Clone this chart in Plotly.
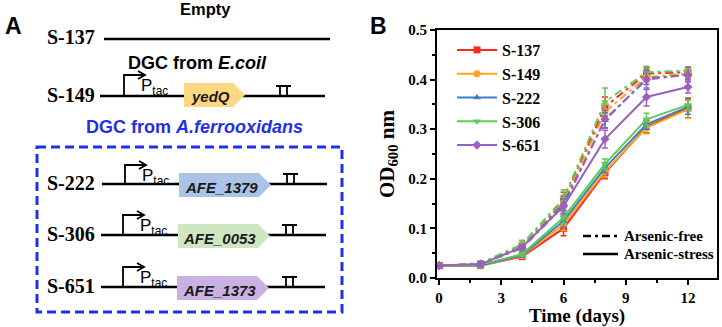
import plotly.graph_objects as go

W, H = 722, 327

# ---------------- data ----------------
days = [0, 2, 4, 6, 8, 10, 12]
strains = ["S-137", "S-149", "S-222", "S-306", "S-651"]
colors = ["#ff2a1f", "#ffa51c", "#3e80c4", "#60c95a", "#9c5fc1"]
symbols = ["square", "circle", "triangle-up", "triangle-down", "diamond"]

stress_137 = [0.025, 0.025, 0.043, 0.100, 0.212, 0.305, 0.343]
stress_149 = [0.025, 0.024, 0.045, 0.108, 0.215, 0.303, 0.340]
stress_222 = [0.025, 0.025, 0.046, 0.115, 0.222, 0.310, 0.345]
stress_306 = [0.025, 0.027, 0.048, 0.122, 0.230, 0.320, 0.349]
stress_651 = [0.025, 0.028, 0.062, 0.145, 0.280, 0.365, 0.385]

free_137 = [0.025, 0.028, 0.063, 0.155, 0.345, 0.412, 0.415]
free_149 = [0.025, 0.028, 0.066, 0.152, 0.335, 0.405, 0.412]
free_222 = [0.025, 0.028, 0.062, 0.150, 0.318, 0.402, 0.410]
free_306 = [0.025, 0.030, 0.068, 0.160, 0.355, 0.415, 0.418]
free_651 = [0.025, 0.028, 0.060, 0.145, 0.320, 0.400, 0.410]

stress_err_137 = [0.003, 0.004, 0.004, 0.015, 0.012, 0.012, 0.020]
stress_err_149 = [0.003, 0.004, 0.004, 0.012, 0.012, 0.012, 0.018]
stress_err_222 = [0.003, 0.004, 0.004, 0.012, 0.010, 0.010, 0.015]
stress_err_306 = [0.003, 0.004, 0.004, 0.012, 0.010, 0.012, 0.010]
stress_err_651 = [0.003, 0.004, 0.006, 0.015, 0.018, 0.018, 0.012]

free_err_137 = [0.003, 0.004, 0.006, 0.018, 0.020, 0.012, 0.010]
free_err_149 = [0.003, 0.004, 0.008, 0.015, 0.015, 0.010, 0.010]
free_err_222 = [0.003, 0.004, 0.006, 0.015, 0.015, 0.012, 0.010]
free_err_306 = [0.003, 0.005, 0.008, 0.018, 0.028, 0.012, 0.008]
free_err_651 = [0.003, 0.004, 0.006, 0.015, 0.018, 0.020, 0.015]

stress = [stress_137, stress_149, stress_222, stress_306, stress_651]
free = [free_137, free_149, free_222, free_306, free_651]
stress_err = [stress_err_137, stress_err_149, stress_err_222, stress_err_306, stress_err_651]
free_err = [free_err_137, free_err_149, free_err_222, free_err_306, free_err_651]

x_ticks = [0, 3, 6, 9, 12]
y_ticks = [0.0, 0.1, 0.2, 0.3, 0.4, 0.5]

condition_labels = ["Arsenic-free", "Arsenic-stress"]

# schematic (panel A) content
construct_labels = ["S-137", "S-149", "S-222", "S-306", "S-651"]
gene_names = [None, "yedQ", "AFE_1379", "AFE_0053", "AFE_1373"]
gene_fills = [None, "#fdd882", "#a9c4e7", "#cfe6c3", "#c8b1e3"]

SERIF = "Liberation Serif"
SANS = "Liberation Sans"
FREE_DASH = "8px,4px,3px,4px"

fig = go.Figure()

# arsenic-free (dash-dot)
for i, s in enumerate(strains):
    fig.add_trace(go.Scatter(
        x=days, y=free[i], mode="lines+markers", name=s, legendgroup=s,
        showlegend=False,
        line=dict(color=colors[i], width=2, dash=FREE_DASH),
        marker=dict(symbol=symbols[i], size=7, color=colors[i]),
        error_y=dict(type="data", array=free_err[i], color=colors[i], thickness=1.5, width=3),
    ))
# arsenic-stress (solid)
for i, s in enumerate(strains):
    fig.add_trace(go.Scatter(
        x=days, y=stress[i], mode="lines+markers", name=s, legendgroup=s,
        line=dict(color=colors[i], width=2),
        marker=dict(symbol=symbols[i], size=7, color=colors[i]),
        error_y=dict(type="data", array=stress_err[i], color=colors[i], thickness=1.5, width=3),
    ))


def px(x):
    return x / W


def py(y):
    return 1 - y / H


def pt(x, y):
    return f"{px(x):.5f},{py(y):.5f}"


shapes = []
annots = []


def line(x0, y0, x1, y1, w=2.2, color="black", dash=None):
    ln = dict(color=color, width=w)
    if dash:
        ln["dash"] = dash
    shapes.append(dict(type="line", xref="paper", yref="paper",
                       x0=px(x0), y0=py(y0), x1=px(x1), y1=py(y1), line=ln))


def path(d, w=2, color="black", fill=None):
    s = dict(type="path", xref="paper", yref="paper", path=d,
             line=dict(color=color, width=w))
    if fill:
        s["fillcolor"] = fill
    shapes.append(s)


def text(x, y, t, size, family=SANS, color="black", xanchor="center", weight="bold"):
    annots.append(dict(xref="paper", yref="paper", x=px(x), y=py(y), text=t,
                       showarrow=False, xanchor=xanchor, yanchor="middle",
                       font=dict(family=family, size=size, color=color, weight=weight)))


# panel labels
text(14, 26, "A", 23, weight="bold")
text(378, 26, "B", 23, weight="bold")

# headings
text(205, 9, "Empty", 16.5)
text(197, 63, "DGC from <i>E.coil</i>", 18)
text(195, 127, "DGC from <i>A.ferrooxidans</i>", 18, color="#1f2ff0")

# dashed box
shapes.append(dict(type="rect", xref="paper", yref="paper",
                   x0=px(37), x1=px(342), y0=py(147), y1=py(312),
                   line=dict(color="#1f2ff0", width=3, dash="9px,5px")))

# constructs geometry
rows = [
    (37, 104, 330, 39, None, None, None, None, None, None, None),
    (95, 100, 325, 96, 124, 75, 184, 245, 83, 107, 276),
    (183, 102, 327, 184, 125, 165, 179, 271, 173, 197, 283),
    (234, 101, 326, 235, 123, 215, 178, 270, 224, 248, 282),
    (286, 101, 325, 287, 123, 267, 177, 269, 276, 300, 282),
]

for i, r in enumerate(rows):
    ly, lx0, lx1, lyy, prx, prt, gx0, gx1, gy0, gy1, tx = r
    text(97, ly, construct_labels[i], 20, family=SERIF, xanchor="right")
    line(lx0, lyy, lx1, lyy, w=2.4)
    if prx is None:
        continue
    # promoter arrow
    pe = prx + 21
    path(f"M{pt(prx, lyy)} L{pt(prx, prt)} L{pt(pe, prt)}", w=1.8)
    path(f"M{pt(pe - 7, prt - 4)} L{pt(pe, prt)} L{pt(pe - 7, prt + 4)}", w=1.8)
    text(prx + 15, prt + 12, "P<sub>tac</sub>", 17, weight="normal", xanchor="left")
    # gene arrow box
    tip = gx1 - 12
    ym = (gy0 + gy1) / 2
    path(f"M{pt(gx0, gy0)} L{pt(tip, gy0)} L{pt(gx1, ym)} L{pt(tip, gy1)} L{pt(gx0, gy1)} Z",
         w=0, color=gene_fills[i], fill=gene_fills[i])
    text((gx0 + tip) / 2 + 2, ym + 2, f"<i>{gene_names[i]}</i>", 15, color="#1a1a1a")
    # terminator
    ty = lyy - 10
    path(f"M{pt(tx, ty)} L{pt(tx + 15, ty)} M{pt(tx + 4, ty)} L{pt(tx + 4, lyy)} "
         f"M{pt(tx + 11, ty)} L{pt(tx + 11, lyy)}", w=1.8)

# condition key (line-style legend)
key_rows = [(236, FREE_DASH), (254, None)]
for (ky, dsh), lab in zip(key_rows, condition_labels):
    line(583, ky, 618, ky, w=2.5, dash=dsh)
    text(622, ky, lab, 15, family=SERIF, xanchor="left")

tick_font = dict(family=SERIF, size=15, color="black", weight="bold")
title_font = dict(family=SERIF, size=19, color="black", weight="bold")

fig.update_layout(
    width=W, height=H,
    margin=dict(l=0, r=0, t=0, b=0),
    paper_bgcolor="white", plot_bgcolor="white",
    shapes=shapes, annotations=annots,
    xaxis=dict(domain=[px(437), px(717)], range=[-0.1, 13.4],
               tickvals=x_ticks, ticktext=[str(v) for v in x_ticks],
               showgrid=False, zeroline=False,
               showline=True, linecolor="black", linewidth=2, mirror=True,
               ticks="outside", ticklen=5, tickwidth=2, tickcolor="black",
               minor=dict(tickvals=[1.5, 4.5, 7.5, 10.5], ticks="outside", ticklen=3,
                          tickwidth=1.5, tickcolor="black", showgrid=False),
               tickfont=tick_font, automargin=False,
               title=dict(text="Time (days)", font=title_font, standoff=5)),
    yaxis=dict(domain=[py(278), py(30)], range=[0, 0.5],
               tickvals=y_ticks, ticktext=[f"{v:.1f}" for v in y_ticks],
               showgrid=False, zeroline=False,
               showline=True, linecolor="black", linewidth=2, mirror=True,
               ticks="outside", ticklen=5, tickwidth=2, tickcolor="black",
               minor=dict(tickvals=[0.05, 0.15, 0.25, 0.35, 0.45], ticks="outside", ticklen=3,
                          tickwidth=1.5, tickcolor="black", showgrid=False),
               tickfont=tick_font, automargin=False,
               title=dict(text="OD<sub>600</sub> nm",
                          font=dict(family=SERIF, size=21, color="black", weight="bold"),
                          standoff=8)),
    legend=dict(x=px(452), y=py(33), xanchor="left", yanchor="top",
                bgcolor="rgba(0,0,0,0)", borderwidth=0,
                font=dict(family=SERIF, size=16, color="black", weight="bold"),
                tracegroupgap=0, itemwidth=40),
    showlegend=True,
)

fig.write_html("out.html")
